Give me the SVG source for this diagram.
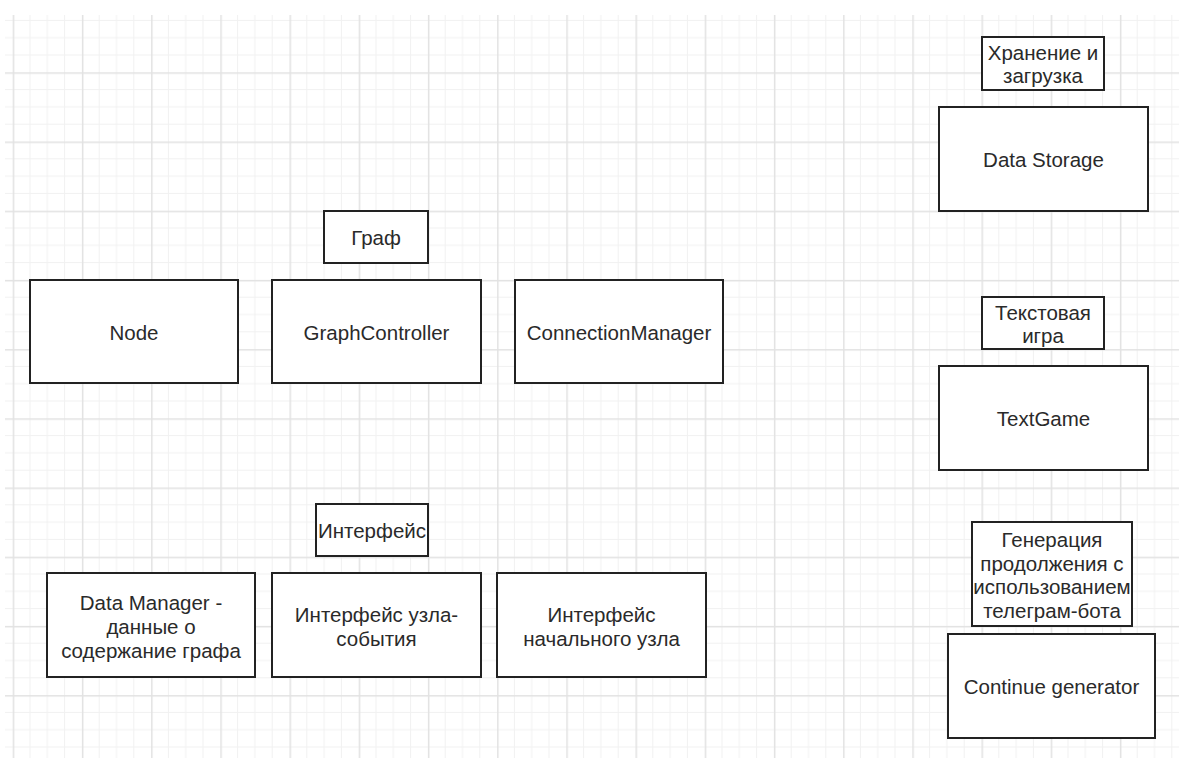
<svg xmlns="http://www.w3.org/2000/svg" width="1179" height="758" viewBox="0 0 1179 758">
<style>
.box{fill:#ffffff;stroke:#222222;stroke-width:2}
.t{font-family:"Liberation Sans",Arial,sans-serif;font-size:20.5px;fill:#2a2a2a;text-anchor:middle}
</style>
<defs>
<pattern id="grid" patternUnits="userSpaceOnUse" x="12.7" y="72.3" width="69.2" height="69.2">
<path d="M17.3 0V69.2M34.6 0V69.2M51.9 0V69.2M0 17.3H69.2M0 34.6H69.2M0 51.9H69.2" stroke="#f1f1f1" stroke-width="1" fill="none"/>
<path d="M0.75 0V69.2M0 0.75H69.2" stroke="#e2e2e2" stroke-width="1.5" fill="none"/>
</pattern>
</defs>
<rect width="1179" height="758" fill="#ffffff"/>
<rect x="5" y="15" width="1174" height="743" fill="url(#grid)"/>
<g id="connectors"></g>
<g id="label-storage"><rect class="box" x="982" y="37" width="122" height="53"/><text class="t" x="1043" y="60">Хранение и</text><text class="t" x="1043" y="83">загрузка</text></g>
<g id="data-storage"><rect class="box" x="939" y="107" width="209" height="104"/><text class="t" x="1043.5" y="167">Data Storage</text></g>
<g id="label-graph"><rect class="box" x="324" y="211" width="104" height="52"/><text class="t" x="376" y="245">Граф</text></g>
<g id="node"><rect class="box" x="30" y="280" width="208" height="103"/><text class="t" x="134" y="340">Node</text></g>
<g id="graph-controller"><rect class="box" x="272" y="280" width="209" height="103"/><text class="t" x="376.5" y="340">GraphController</text></g>
<g id="connection-manager"><rect class="box" x="515" y="280" width="208" height="103"/><text class="t" x="619" y="340">ConnectionManager</text></g>
<g id="label-textgame"><rect class="box" x="982" y="297" width="122" height="52"/><text class="t" x="1043" y="320">Текстовая</text><text class="t" x="1043" y="343">игра</text></g>
<g id="textgame"><rect class="box" x="939" y="366" width="209" height="104"/><text class="t" x="1043.5" y="426">TextGame</text></g>
<g id="label-interface"><rect class="box" x="316" y="504" width="112" height="52"/><text class="t" x="372" y="538">Интерфейс</text></g>
<g id="label-generation"><rect class="box" x="972" y="522" width="160" height="104"/><text class="t" x="1052" y="547">Генерация</text><text class="t" x="1052" y="571">продолжения с</text><text class="t" x="1052" y="594">использованием</text><text class="t" x="1052" y="618">телеграм-бота</text></g>
<g id="data-manager"><rect class="box" x="47" y="573" width="208" height="104"/><text class="t" x="151" y="610">Data Manager -</text><text class="t" x="151" y="634">данные о</text><text class="t" x="151" y="658">содержание графа</text></g>
<g id="event-node-interface"><rect class="box" x="272" y="573" width="209" height="104"/><text class="t" x="376.5" y="622">Интерфейс узла-</text><text class="t" x="376.5" y="646">события</text></g>
<g id="start-node-interface"><rect class="box" x="497" y="573" width="209" height="104"/><text class="t" x="601.5" y="622">Интерфейс</text><text class="t" x="601.5" y="646">начального узла</text></g>
<g id="continue-generator"><rect class="box" x="948" y="634" width="207" height="104"/><text class="t" x="1051.5" y="694">Continue generator</text></g>
</svg>
